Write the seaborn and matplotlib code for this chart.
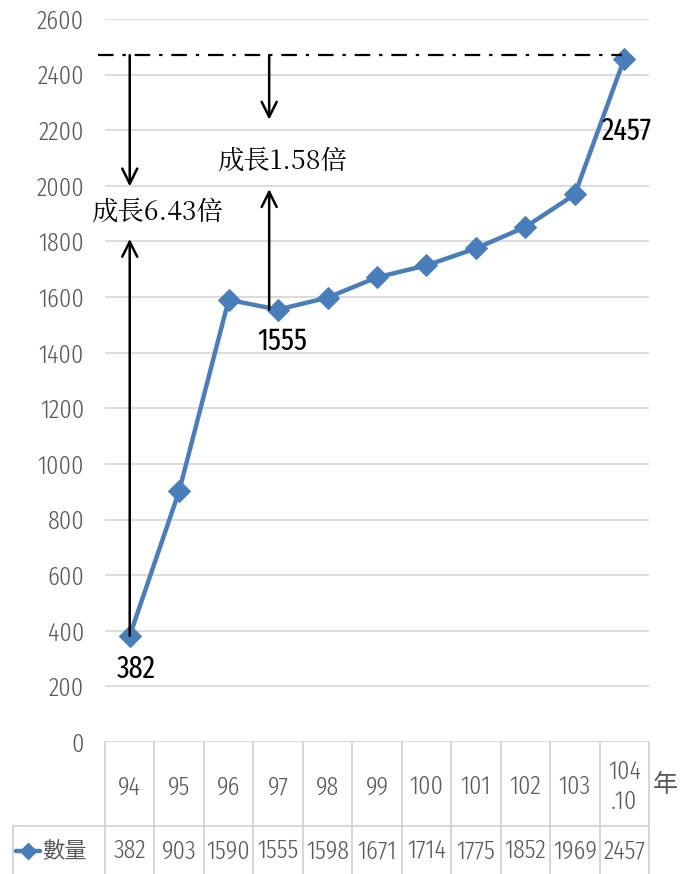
import matplotlib
matplotlib.use("Agg")
import matplotlib.pyplot as plt
import matplotlib.transforms as mtransforms
import seaborn as sns
import pandas as pd

categories = ["94", "95", "96", "97", "98", "99", "100", "101", "102", "103", "104\n.10"]
counts = [382, 903, 1590, 1555, 1598, 1671, 1714, 1775, 1852, 1969, 2457]
series_name = "數量"
unit_label = "年"
y_ticks = list(range(0, 2601, 200))
growth_labels = ["成長6.43倍", "成長1.58倍"]

sns.set_theme(style="white")
NARROW = ["Fira Sans Extra Condensed", "DejaVu Sans"]
CJK = ["Noto Serif CJK TC", "Noto Sans CJK TC", "DejaVu Sans"]
CJK_SANS = ["Noto Sans CJK TC", "DejaVu Sans"]
plt.rcParams["font.family"] = NARROW
plt.rcParams["font.weight"] = 300

W, H = 686, 874
fig = plt.figure(figsize=(W / 100, H / 100), dpi=100)
ax = fig.add_axes([105 / W, (H - 742) / H, 544 / W, (742 - 19) / H])

df = pd.DataFrame({"x": range(len(counts)), "value": counts})
blue = "#4A7EBB"
sns.lineplot(data=df, x="x", y="value", ax=ax, color=blue, linewidth=3.2,
             marker="D", markersize=11, markeredgecolor=blue, markerfacecolor=blue)

ax.set_xlim(-0.5, len(counts) - 0.5)
ax.set_ylim(0, 2600)
ax.set_yticks(y_ticks)
ax.set_xticks([])
ax.set_xlabel("")
ax.set_ylabel("")
ax.grid(axis="y", color="#d9d9d9", linewidth=1.3)
ax.set_axisbelow(True)
for s in ax.spines.values():
    s.set_visible(False)
ax.tick_params(axis="y", length=0, pad=15, labelsize=19, labelcolor="#595959")
for lab in ax.get_yticklabels():
    lab.set_fontfamily(NARROW)
    lab.set_fontweight(300)

# dash-dot reference line at top
ax.plot([-0.64, 9.95], [2470, 2470], color="black", linewidth=1.6,
        linestyle=(0, (7, 4, 1.5, 4)), clip_on=False, zorder=3)

arrow_kw = dict(arrowstyle="->,head_length=0.9,head_width=0.45", color="black", lw=1.8,
                shrinkA=0, shrinkB=0)
# arrow 1 (6.43x)
ax.annotate("", xy=(0, 1998), xytext=(0, 2470), arrowprops=arrow_kw, zorder=2)
ax.annotate("", xy=(0, 1809), xytext=(0, counts[0]), arrowprops=arrow_kw, zorder=2)
ax.text(0.55, 1905, growth_labels[0], ha="center", va="center", fontsize=19,
        family=CJK, color="black", fontweight=400)
# arrow 2 (1.58x)
ax.annotate("", xy=(2.82, 2238), xytext=(2.82, 2470), arrowprops=arrow_kw, zorder=2)
ax.annotate("", xy=(2.82, 1988), xytext=(2.82, counts[3]), arrowprops=arrow_kw, zorder=2)
ax.text(3.08, 2088, growth_labels[1], ha="center", va="center", fontsize=19,
        family=CJK, color="black", fontweight=400)

# data labels
lbl_kw = dict(fontsize=22, color="black", fontweight=400, va="center")
ax.text(0.13, 262, str(counts[0]), ha="center", **lbl_kw)
ax.text(3.08, 1440, str(counts[3]), ha="center", **lbl_kw)
ax.text(9.55, 2196, str(counts[10]), ha="left", **lbl_kw)

# data table
tr = mtransforms.blended_transform_factory(ax.transData, fig.transFigure)
line_c = "#d0d0d0"
y_top = (H - 742) / H
y_mid = (H - 826) / H
for i in range(len(counts) + 1):
    ax.plot([i - 0.5, i - 0.5], [y_top, 0], color=line_c, lw=1.2, transform=tr, clip_on=False)
fig.add_artist(plt.Line2D([13 / W, 649 / W], [y_mid, y_mid], color=line_c, lw=1.2,
                          transform=fig.transFigure))
fig.add_artist(plt.Line2D([13 / W, 13 / W], [y_mid, 0], color=line_c, lw=1.2,
                          transform=fig.transFigure))
for i, c in enumerate(categories):
    ax.text(i, (H - 787) / H, c, ha="center", va="center", fontsize=19, color="#595959",
            transform=tr, linespacing=1.25)
    ax.text(i, (H - 851) / H, str(counts[i]), ha="center", va="center", fontsize=19,
            color="#595959", transform=tr)
fig.add_artist(plt.Line2D([16 / W, 40 / W], [(H - 851) / H] * 2, color=blue, lw=3.2,
                          marker=None, transform=fig.transFigure))
fig.add_artist(plt.Line2D([28 / W], [(H - 851) / H], color=blue, marker="D", markersize=8,
                          transform=fig.transFigure))
fig.text(42 / W, (H - 851) / H, series_name, ha="left", va="center", fontsize=16,
         color="#595959", family=CJK_SANS, fontweight=400)
fig.text(665 / W, (H - 785) / H, unit_label, ha="center", va="center", fontsize=18,
         color="#595959", family=CJK_SANS, fontweight=400)

fig.savefig("out.png", dpi=100)
